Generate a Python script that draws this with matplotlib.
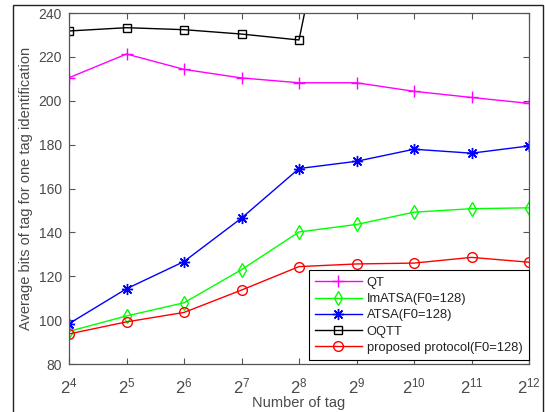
import matplotlib
matplotlib.use("Agg")
import matplotlib.pyplot as plt
from matplotlib.patches import Rectangle

plt.rcParams['font.family'] = ['Liberation Sans', 'DejaVu Sans']
plt.rcParams['mathtext.default'] = 'regular'

exponents = [4, 5, 6, 7, 8, 9, 10, 11, 12]
n_tags = [2 ** e for e in exponents]
xtick_labels = [r'$2^{%d}$' % e for e in exponents]

qt = [210.5, 221.3, 214.3, 210.4, 208.2, 208.2, 204.3, 201.5, 198.8]
imatsa = [94.9, 101.9, 107.9, 123.0, 140.2, 143.6, 149.2, 150.8, 151.2]
atsa = [98.4, 114.3, 126.7, 146.5, 169.1, 172.4, 177.9, 176.1, 179.4]
oqtt = [231.8, 233.3, 232.4, 230.4, 227.7, 355.0]
proposed = [93.7, 99.2, 103.5, 113.7, 124.4, 125.6, 126.0, 128.6, 126.4]

yticks = [80, 100, 120, 140, 160, 180, 200, 220, 240]

fig = plt.figure(figsize=(5.45, 4.12), dpi=100)
ax = fig.add_axes([69 / 545, 1 - 364 / 412, 460 / 545, 351 / 412])

lw = 1.0
ax.plot(n_tags, qt, color='#ff00ff', marker='+', markersize=9, lw=lw,
        markeredgewidth=1.0, label='QT')
ax.plot(n_tags, imatsa, color='#00ff00', marker='d', markersize=7.5, lw=lw,
        markerfacecolor='none', markeredgewidth=1.0, label='ImATSA(F0=128)')
ax.plot(n_tags, atsa, color='#0000ff', marker=(8, 2, 0), markersize=8, lw=lw,
        markeredgewidth=1.0, label='ATSA(F0=128)')
ax.plot(n_tags[:len(oqtt)], oqtt, color='black', marker='s', markersize=6, lw=lw,
        markerfacecolor='none', markeredgewidth=1.0, label='OQTT')
ax.plot(n_tags, proposed, color='#ff0000', marker='o', markersize=7, lw=lw,
        markerfacecolor='none', markeredgewidth=1.0, label='proposed protocol(F0=128)')

ax.set_xscale('log', base=2)
ax.set_xlim(n_tags[0], n_tags[-1])
ax.set_ylim(80, 240)
ax.set_xticks(n_tags)
ax.set_xticklabels(xtick_labels)
ax.minorticks_off()
ax.set_yticks(yticks)

gray = '#4a4a4a'
for s in ax.spines.values():
    s.set_color('#555555')
    s.set_linewidth(0.9)
ax.tick_params(axis='both', direction='in', top=True, right=True, length=4,
               colors='#555555', labelcolor=gray)
ax.tick_params(axis='y', labelsize=10, pad=5)
ax.tick_params(axis='x', labelsize=12, pad=9)

ax.set_xlabel('Number of tag', fontsize=10.5, color=gray, labelpad=0)
ax.set_ylabel('Average bits of tag for one tag identification', fontsize=10.5,
              color=gray, labelpad=4)

leg = ax.legend(loc='lower right', bbox_to_anchor=(1.0, 0.011), borderaxespad=0,
                fontsize=9.3, handlelength=3.6, handletextpad=0.4,
                labelspacing=0.32, borderpad=0.5, fancybox=False, framealpha=1)
leg.get_frame().set_edgecolor('black')
leg.get_frame().set_linewidth(0.8)
for t in leg.get_texts():
    t.set_color('#222222')

fig.patches.append(Rectangle((13 / 545, -0.1), (543 - 13) / 545, 1.1 - 5 / 412,
                             transform=fig.transFigure, fill=False,
                             edgecolor='#222222', linewidth=1.0))

fig.savefig('out.png', dpi=100)
